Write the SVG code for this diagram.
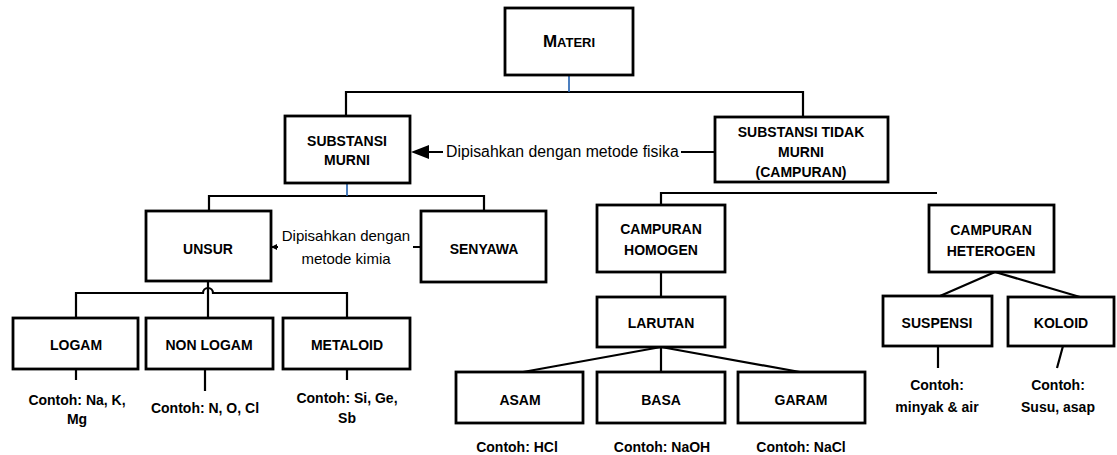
<svg xmlns="http://www.w3.org/2000/svg" width="1117" height="455" viewBox="0 0 1117 455">
<style>
.box{fill:#fff;stroke:#000;stroke-width:2.8}
.lbl{font-family:"Liberation Sans",Arial,sans-serif;font-weight:bold;font-size:14px;text-anchor:middle;fill:#000}
.ex{font-family:"Liberation Sans",Arial,sans-serif;font-weight:bold;font-size:14px;text-anchor:middle;fill:#000}
.note{font-family:"Liberation Sans",Arial,sans-serif;font-size:15px;fill:#000}
.ln{fill:none;stroke:#000;stroke-width:2.2}
.blue{fill:none;stroke:#1f5fb0;stroke-width:1.6}
</style>
<rect width="1117" height="455" fill="#fff"/>
<g id="connectors">
<path class="ln" d="M346,115 V92 H803 V117"/>
<path class="blue" d="M569,75 V92"/>
<path class="ln" d="M428,152 H443 M681,152 H715"/>
<polygon points="411,152 429,145 429,159" fill="#000"/>
<path class="ln" d="M209,211 V196 H484 V211"/>
<path class="blue" d="M347,183 V196"/>
<path class="ln" d="M272,247 H278 M413,247 H421"/>
<polygon points="271,247 277,244 277,250" fill="#000"/>
<path class="ln" d="M208,281 V288 M76,318 V293 H203 A5,5 0 0 1 213,293 H347 V318 M208,288 V318"/>
<path class="ln" d="M76,369 V380 M205,369 V391 M347,369 V380"/>
<path class="ln" d="M661,205 V193 H937"/>
<path class="ln" d="M661,272 V297"/>
<path class="ln" d="M661,347 L523,372 M661,347 V372 M661,347 L800,372"/>
<path class="ln" d="M995,272 L940,296 M995,272 L1080,297 H1100"/>
<path class="ln" d="M938,346 V368 M1063,346 L1057,368"/>
</g>
<g id="materi"><rect class="box" x="505" y="8" width="128" height="67"/><text class="lbl" x="569" y="47"><tspan style="font-size:17px">M</tspan><tspan style="font-size:13px">ATERI</tspan></text></g>
<g id="substansi-murni"><rect class="box" x="285" y="116" width="125" height="67"/><text class="lbl" x="347" y="146">SUBSTANSI</text><text class="lbl" x="347" y="165">MURNI</text></g>
<text id="label-fisika" class="note" x="446" y="157" style="font-size:15.8px">Dipisahkan dengan metode fisika</text>
<g id="substansi-tidak-murni"><rect class="box" x="715" y="117" width="173" height="65"/><text class="lbl" x="801" y="137">SUBSTANSI TIDAK</text><text class="lbl" x="801" y="157">MURNI</text><text class="lbl" x="801" y="177">(CAMPURAN)</text></g>
<g id="unsur"><rect class="box" x="146" y="211" width="125" height="70"/><text class="lbl" x="208" y="254">UNSUR</text></g>
<g id="senyawa"><rect class="box" x="421" y="211" width="125" height="71"/><text class="lbl" x="484" y="254">SENYAWA</text></g>
<text id="label-kimia" class="note" text-anchor="middle"><tspan x="346" y="241">Dipisahkan dengan</tspan><tspan x="346" y="264">metode kimia</tspan></text>
<g id="logam"><rect class="box" x="13" y="318" width="125" height="51"/><text class="lbl" x="76" y="350">LOGAM</text></g>
<g id="non-logam"><rect class="box" x="146" y="318" width="127" height="51"/><text class="lbl" x="209" y="350">NON LOGAM</text></g>
<g id="metaloid"><rect class="box" x="283" y="318" width="127" height="51"/><text class="lbl" x="347" y="350">METALOID</text></g>
<text class="ex" x="77" y="405">Contoh: Na, K,</text><text class="ex" x="77" y="424">Mg</text>
<text class="ex" x="205" y="413">Contoh: N, O, Cl</text>
<text class="ex" x="347" y="403">Contoh: Si, Ge,</text><text class="ex" x="347" y="423">Sb</text>
<g id="campuran-homogen"><rect class="box" x="597" y="205" width="128" height="67"/><text class="lbl" x="661" y="234">CAMPURAN</text><text class="lbl" x="661" y="255">HOMOGEN</text></g>
<g id="larutan"><rect class="box" x="597" y="297" width="128" height="50"/><text class="lbl" x="661" y="328">LARUTAN</text></g>
<g id="asam"><rect class="box" x="456" y="372" width="127" height="51"/><text class="lbl" x="520" y="405">ASAM</text></g>
<g id="basa"><rect class="box" x="597" y="372" width="128" height="51"/><text class="lbl" x="661" y="405">BASA</text></g>
<g id="garam"><rect class="box" x="738" y="372" width="127" height="51"/><text class="lbl" x="801" y="405">GARAM</text></g>
<text class="ex" x="517" y="452">Contoh: HCl</text>
<text class="ex" x="662" y="452">Contoh: NaOH</text>
<text class="ex" x="801" y="452">Contoh: NaCl</text>
<g id="campuran-heterogen"><rect class="box" x="929" y="205" width="125" height="67"/><text class="lbl" x="991" y="235">CAMPURAN</text><text class="lbl" x="991" y="256">HETEROGEN</text></g>
<g id="suspensi"><rect class="box" x="883" y="296" width="109" height="50"/><text class="lbl" x="937" y="328">SUSPENSI</text></g>
<g id="koloid"><rect class="box" x="1008" y="297" width="106" height="49"/><text class="lbl" x="1061" y="328">KOLOID</text></g>
<text class="ex" x="937" y="390">Contoh:</text><text class="ex" x="937" y="412">minyak &amp; air</text>
<text class="ex" x="1058" y="390">Contoh:</text><text class="ex" x="1058" y="412">Susu, asap</text>
</svg>
